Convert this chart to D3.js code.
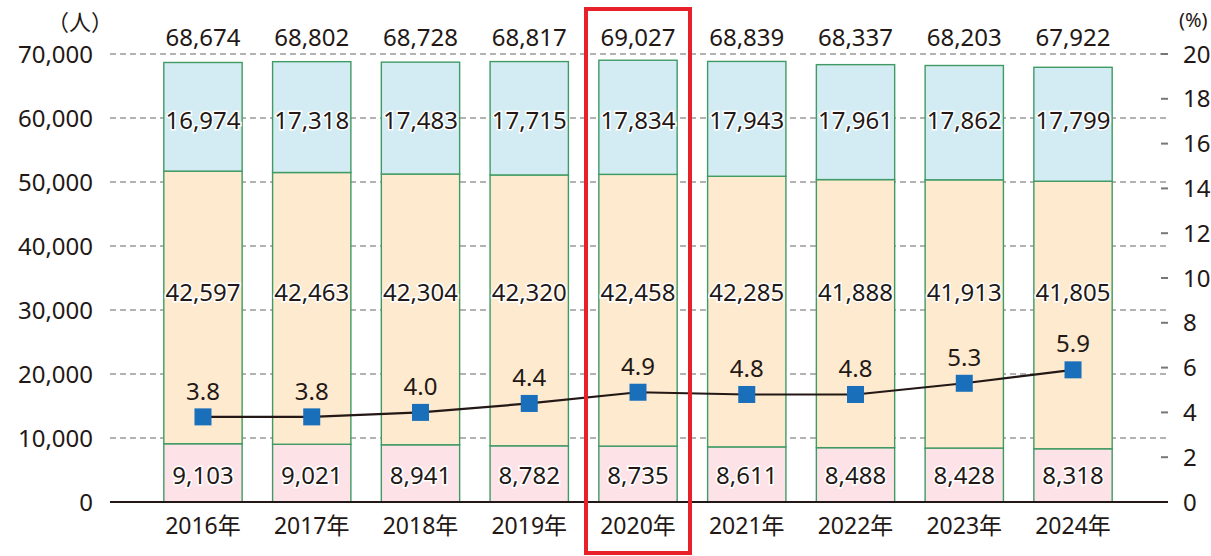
<!DOCTYPE html>
<html><head><meta charset="utf-8">
<script src="https://cdn.jsdelivr.net/npm/d3@7"></script>
<style>
body{margin:0;background:#fff;}
text{font-family:"Noto Sans","Noto Sans CJK JP",sans-serif;fill:#231815;}
</style></head><body>
<svg id="c" width="1211" height="556"></svg>
<script>
const years = ["2016年","2017年","2018年","2019年","2020年","2021年","2022年","2023年","2024年"];
const bottomVals = [9103,9021,8941,8782,8735,8611,8488,8428,8318];
const middleVals = [42597,42463,42304,42320,42458,42285,41888,41913,41805];
const topVals = [16974,17318,17483,17715,17834,17943,17961,17862,17799];
const totals = [68674,68802,68728,68817,69027,68839,68337,68203,67922];
const rates = [3.8,3.8,4.0,4.4,4.9,4.8,4.8,5.3,5.9];
const leftTicks = [0,10000,20000,30000,40000,50000,60000,70000];
const rightTicks = [0,2,4,6,8,10,12,14,16,18,20];
const highlightYear = "2020年";
// value level at which each series' labels sit (one row per series)
const labelLevels = [4200, 32800, 59700];

const svg = d3.select("#c");
const y0 = 502, y1 = 54;
const x = d3.scaleBand().domain(years).range([148.6,1127.4]).paddingInner(0.28).paddingOuter(0.14);
const yL = d3.scaleLinear().domain([0,70000]).range([y0,y1]);
const yR = d3.scaleLinear().domain([0,20]).range([y0,y1]);
const fmt = d3.format(",");

// grid
svg.append("g").selectAll("line").data(leftTicks.slice(1)).join("line")
  .attr("x1",110).attr("x2",1168).attr("y1",d=>yL(d)).attr("y2",d=>yL(d))
  .attr("stroke","#9a9a9a").attr("stroke-width",1.3).attr("stroke-dasharray","6,4");

// left axis labels
svg.append("g").selectAll("text").data(leftTicks).join("text")
  .attr("x",93).attr("y",d=>yL(d)).attr("dy","0.36em").attr("text-anchor","end")
  .attr("font-size",24).text(d=>fmt(d));
svg.append("text").attr("x",80).attr("y",22).attr("dy","0.36em").attr("text-anchor","middle").attr("font-size",22).text("（人）");

// right axis
svg.append("g").selectAll("line").data(rightTicks.slice(1)).join("line")
  .attr("x1",1161).attr("x2",1168).attr("y1",d=>yR(d)).attr("y2",d=>yR(d))
  .attr("stroke","#777").attr("stroke-width",2);
svg.append("g").selectAll("text").data(rightTicks).join("text")
  .attr("x",1183).attr("y",d=>yR(d)).attr("dy","0.36em").attr("text-anchor","start")
  .attr("font-size",24).text(d=>d);
svg.append("text").attr("x",1179).attr("y",20).attr("dy","0.36em").attr("font-size",20).text("(%)");

// bars
const stacks = [
  {vals:bottomVals, base:years.map(()=>0), fill:"#fde2e8"},
  {vals:middleVals, base:bottomVals, fill:"#fdeacf"},
  {vals:topVals, base:bottomVals.map((b,i)=>b+middleVals[i]), fill:"#d3ecf3"}
];
stacks.forEach((s,k)=>{
  const g = svg.append("g");
  g.selectAll("rect").data(years).join("rect")
    .attr("x",d=>x(d)).attr("width",x.bandwidth())
    .attr("y",(d,i)=>yL(s.base[i]+s.vals[i])).attr("height",(d,i)=>yL(s.base[i])-yL(s.base[i]+s.vals[i]))
    .attr("fill",s.fill).attr("stroke","#3f9a63").attr("stroke-width",1.4);
  g.selectAll("text").data(years).join("text")
    .attr("x",d=>x(d)+x.bandwidth()/2).attr("y",yL(labelLevels[k]))
    .attr("dy","0.36em").attr("text-anchor","middle").attr("font-size",24)
    .attr("stroke","#fff").attr("stroke-width",3).attr("paint-order","stroke")
    .text((d,i)=>fmt(s.vals[i]));
});

// totals
svg.append("g").selectAll("text").data(years).join("text")
  .attr("x",d=>x(d)+x.bandwidth()/2).attr("y",37).attr("dy","0.36em")
  .attr("text-anchor","middle").attr("font-size",24).text((d,i)=>fmt(totals[i]));

// baseline
svg.append("line").attr("x1",110).attr("x2",1168).attr("y1",y0).attr("y2",y0).attr("stroke","#231815").attr("stroke-width",2.2);

// x labels
svg.append("g").selectAll("text").data(years).join("text")
  .attr("x",d=>x(d)+x.bandwidth()/2).attr("y",526).attr("dy","0.36em")
  .attr("text-anchor","middle").attr("font-size",23).text(d=>d);

// line
const cx = d=>x(d)+x.bandwidth()/2;
svg.append("path").datum(years).attr("fill","none").attr("stroke","#231815").attr("stroke-width",2.2)
  .attr("d",d3.line().x(d=>cx(d)).y((d,i)=>yR(rates[i])));
svg.append("g").selectAll("rect").data(years).join("rect")
  .attr("x",d=>cx(d)-8.5).attr("y",(d,i)=>yR(rates[i])-8.5).attr("width",17).attr("height",17)
  .attr("fill","#1a6fba");
svg.append("g").selectAll("text").data(years).join("text")
  .attr("x",d=>cx(d)).attr("y",(d,i)=>yR(rates[i])-26).attr("dy","0.36em")
  .attr("text-anchor","middle").attr("font-size",24)
  .attr("stroke","#fdeacf").attr("stroke-width",3).attr("paint-order","stroke")
  .text((d,i)=>rates[i].toFixed(1));

// highlight box
const hx = x(highlightYear)+x.bandwidth()/2;
svg.append("rect").attr("x",hx-52).attr("y",9).attr("width",104).attr("height",544)
  .attr("fill","none").attr("stroke","#e8202a").attr("stroke-width",4);
</script>
</body></html>
